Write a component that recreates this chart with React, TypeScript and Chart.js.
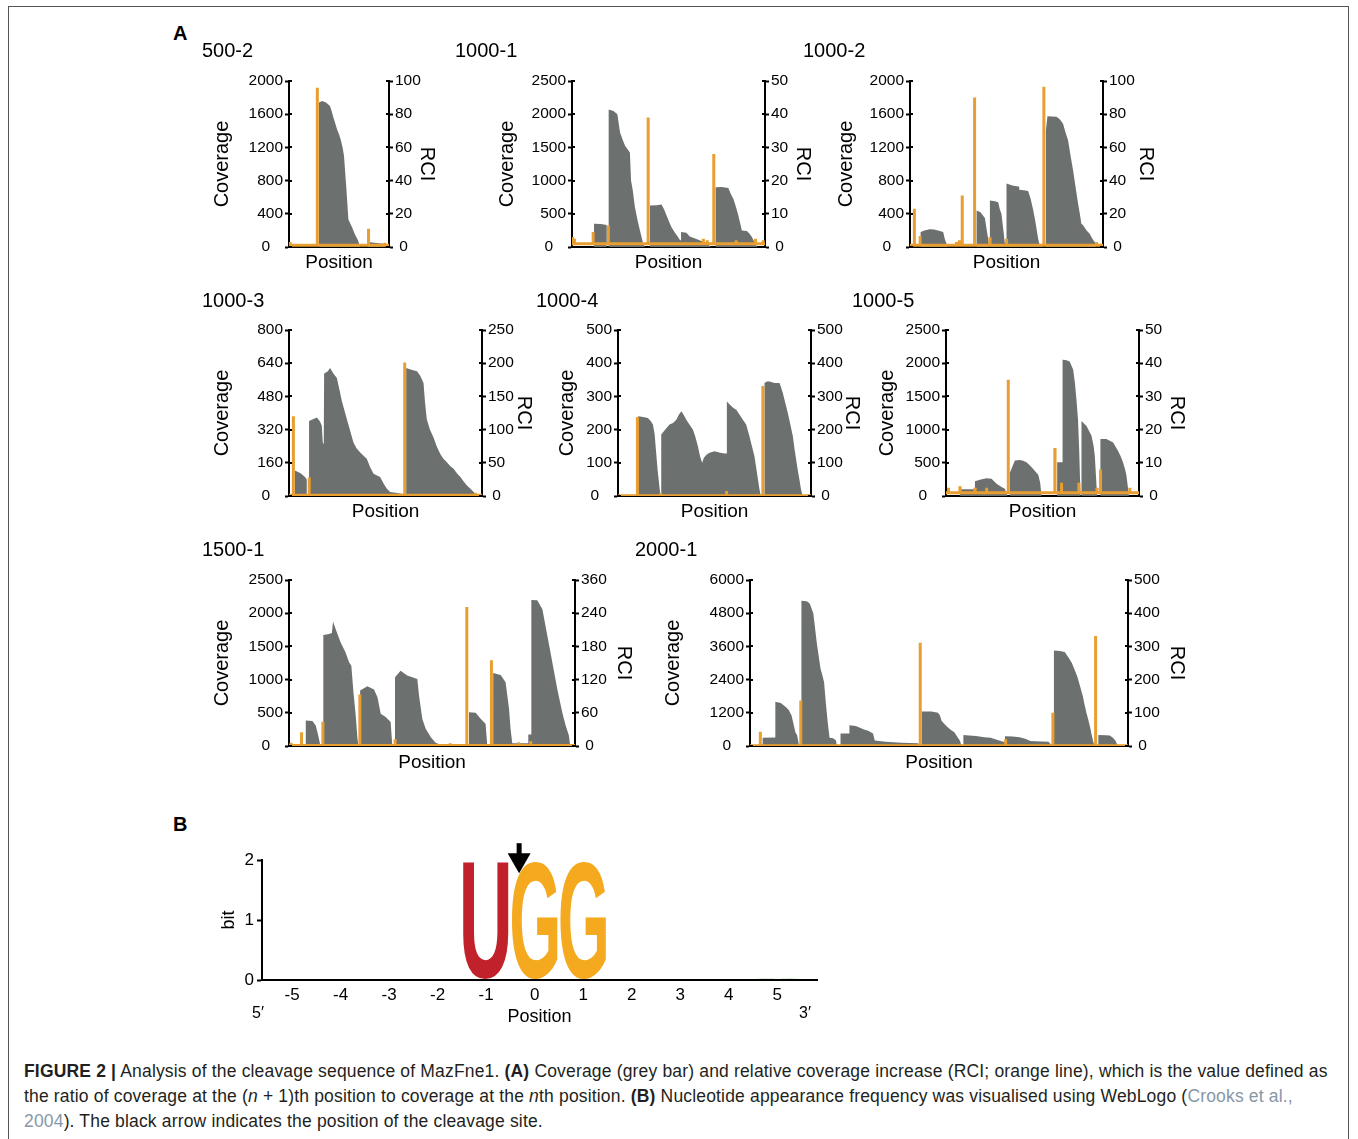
import React, { useEffect, useRef } from "react";
import { Chart, registerables } from "chart.js";

Chart.register(...registerables);

const FONT = '"Liberation Sans", Arial, Helvetica, sans-serif';
const GREY = "#6c716f";
const ORANGE = "#e89e30";
const BLACK = "#000000";
const RCI_BASE = 1;

// ---------------- Panel A data (position in nt, coverage, RCI) ----------------
// 500-2
const len500_2 = 500;
const covPos500_2 = [0, 150, 150, 165, 185, 205, 213, 222, 230, 240, 250, 260, 268, 275, 280, 287, 297, 313, 330, 345, 355, 395, 395, 472, 480];
const covVal500_2 = [0, 0, 1740, 1760, 1740, 1700, 1640, 1560, 1500, 1420, 1357, 1280, 1200, 1100, 930, 700, 330, 250, 150, 80, 0, 0, 60, 40, 0];
const rciPos500_2 = [5, 141, 397, 478];
const rciVal500_2 = [3, 96, 11, 2.5];
const covTicks500_2 = [0, 400, 800, 1200, 1600, 2000];
const rciTicks500_2 = [0, 20, 40, 60, 80, 100];

// 1000-1
const len1000_1 = 1000;
const covPos1000_1 = [0, 114, 114, 150, 180, 180, 190, 190, 215, 235, 249, 262, 275, 300, 306, 315, 326, 340, 352, 368, 378, 404, 404, 440, 464, 478, 490, 503, 515, 530, 544, 560, 565, 565, 593, 610, 645, 670, 697, 720, 744, 744, 775, 810, 823, 836, 850, 862, 872, 880, 906, 920, 932, 949, 960];
const covVal1000_1 = [0, 0, 350, 345, 330, 0, 0, 2070, 2050, 2000, 1725, 1620, 1525, 1425, 1000, 850, 600, 400, 250, 60, 0, 0, 625, 630, 640, 560, 475, 380, 300, 230, 175, 100, 100, 225, 215, 160, 120, 90, 60, 0, 0, 900, 905, 890, 800, 725, 600, 475, 350, 250, 240, 200, 150, 50, 0];
const rciPos1000_1 = [3, 12, 109, 188, 394, 680, 700, 734, 850, 950, 990];
const rciVal1000_1 = [3, 2.5, 4.5, 6.5, 39, 2.5, 2, 28, 2, 2.5, 2];
const covTicks1000_1 = [0, 500, 1000, 1500, 2000, 2500];
const rciTicks1000_1 = [0, 10, 20, 30, 40, 50];

// 1000-2
const len1000_2 = 1000;
const covPos1000_2 = [0, 55, 55, 75, 100, 125, 150, 172, 180, 195, 345, 345, 365, 388, 398, 405, 410, 414, 414, 440, 457, 466, 474, 484, 491, 500, 500, 530, 560, 566, 566, 590, 612, 625, 638, 650, 664, 670, 690, 704, 704, 712, 759, 776, 793, 806, 819, 832, 845, 858, 871, 880, 888, 897, 915, 931, 945, 957, 966];
const covVal1000_2 = [0, 0, 180, 200, 215, 210, 195, 180, 100, 0, 0, 440, 420, 350, 200, 100, 0, 0, 560, 550, 540, 450, 400, 200, 50, 50, 765, 740, 730, 730, 690, 685, 675, 580, 450, 300, 100, 40, 0, 0, 1400, 1575, 1570, 1540, 1486, 1380, 1285, 1100, 924, 720, 522, 400, 281, 261, 200, 160, 100, 60, 0];
const rciPos1000_2 = [22, 52, 240, 255, 270, 334, 414, 500, 620, 693, 800, 966];
const rciVal1000_2 = [23, 6.6, 3, 4, 31, 90, 5, 5, 2, 96.5, 2, 3];
const covTicks1000_2 = [0, 400, 800, 1200, 1600, 2000];
const rciTicks1000_2 = [0, 20, 40, 60, 80, 100];

// 1000-3
const len1000_3 = 1000;
const covPos1000_3 = [0, 31, 31, 60, 83, 92, 92, 104, 104, 144, 160, 170, 175, 180, 182, 200, 213, 230, 248, 262, 274, 300, 315, 334, 350, 369, 385, 403, 420, 438, 472, 490, 507, 524, 560, 590, 595, 607, 607, 630, 663, 680, 697, 705, 714, 730, 749, 765, 784, 800, 818, 835, 853, 870, 888, 905, 922, 940, 957, 974];
const covVal1000_3 = [0, 0, 123, 110, 91, 80, 0, 0, 362, 378, 360, 338, 258, 250, 590, 600, 617, 590, 569, 510, 457, 370, 320, 258, 230, 210, 195, 179, 140, 107, 91, 60, 35, 19, 15, 10, 0, 0, 617, 610, 601, 580, 545, 450, 370, 320, 282, 240, 202, 180, 163, 145, 131, 110, 91, 70, 51, 35, 19, 0];
const rciPos1000_3 = [22, 104, 535, 599, 965];
const rciVal1000_3 = [120, 28, 3, 201, 5];
const covTicks1000_3 = [0, 160, 320, 480, 640, 800];
const rciTicks1000_3 = [0, 50, 100, 150, 200, 250];

// 1000-4
const len1000_4 = 1000;
const covPos1000_4 = [0, 104, 104, 130, 155, 170, 181, 190, 195, 205, 216, 221, 224, 224, 245, 267, 285, 302, 315, 328, 340, 354, 370, 388, 400, 414, 425, 436, 445, 460, 474, 500, 530, 552, 564, 564, 580, 598, 613, 630, 647, 664, 681, 694, 707, 720, 733, 740, 759, 759, 772, 785, 810, 837, 846, 854, 867, 880, 893, 906, 915, 923, 931, 940, 948, 957];
const covVal1000_4 = [0, 0, 240, 238, 235, 225, 215, 185, 150, 80, 20, 0, 0, 185, 200, 215, 220, 230, 245, 255, 245, 230, 215, 200, 180, 150, 120, 100, 115, 125, 130, 135, 130, 128, 128, 285, 275, 265, 260, 245, 230, 215, 180, 150, 120, 70, 20, 0, 0, 340, 345, 345, 340, 340, 325, 310, 280, 250, 215, 180, 140, 110, 80, 50, 20, 0];
const rciPos1000_4 = [52, 100, 221, 562, 750];
const rciVal1000_4 = [5, 238, 8, 15, 331];
const covTicks1000_4 = [0, 100, 200, 300, 400, 500];
const rciTicks1000_4 = [0, 100, 200, 300, 400, 500];

// 1000-5
const len1000_5 = 1000;
const covPos1000_5 = [0, 72, 72, 150, 150, 180, 210, 236, 262, 288, 305, 318, 331, 331, 345, 357, 383, 400, 417, 435, 452, 465, 478, 488, 495, 576, 576, 604, 604, 620, 641, 659, 668, 676, 684, 690, 697, 702, 702, 728, 754, 765, 771, 783, 800, 800, 831, 866, 891, 905, 917, 928, 935, 948];
const covVal1000_5 = [0, 0, 100, 100, 224, 250, 269, 259, 184, 134, 110, 0, 0, 349, 450, 533, 543, 530, 508, 460, 408, 360, 319, 200, 0, 0, 508, 508, 2052, 2050, 2027, 1900, 1700, 1450, 1150, 700, 0, 0, 1130, 1056, 906, 750, 607, 0, 0, 857, 857, 807, 682, 600, 508, 400, 309, 0];
const rciPos1000_5 = [12, 72, 150, 210, 322, 564, 598, 688, 782, 800, 952];
const rciVal1000_5 = [2.5, 2.5, 2, 2.5, 35, 14, 4, 4, 2, 8, 2.5];
const covTicks1000_5 = [0, 500, 1000, 1500, 2000, 2500];
const rciTicks1000_5 = [0, 10, 20, 30, 40, 50];

// 1500-1
const len1500_1 = 1500;
const covPos1500_1 = [0, 88, 88, 123, 140, 149, 157, 165, 180, 180, 210, 225, 231, 245, 271, 297, 315, 327, 338, 350, 359, 365, 373, 373, 411, 446, 464, 481, 507, 533, 542, 556, 556, 585, 620, 673, 682, 699, 717, 743, 769, 795, 930, 930, 944, 944, 979, 1005, 1031, 1040, 1071, 1071, 1110, 1136, 1154, 1162, 1171, 1255, 1255, 1271, 1271, 1302, 1329, 1355, 1381, 1407, 1433, 1451, 1468, 1475];
const covVal1500_1 = [0, 0, 385, 375, 310, 210, 110, 0, 0, 1670, 1685, 1700, 1875, 1760, 1560, 1410, 1260, 1210, 810, 460, 110, 0, 0, 835, 900, 850, 735, 485, 435, 360, 0, 0, 1035, 1135, 1060, 1010, 760, 410, 260, 135, 50, 20, 20, 0, 0, 510, 500, 410, 335, 0, 0, 1100, 1070, 960, 560, 260, 40, 40, 175, 175, 2200, 2195, 2060, 1660, 1260, 860, 510, 310, 160, 0];
const rciPos1500_1 = [10, 65, 177, 371, 556, 700, 845, 932, 1061, 1203, 1267, 1480];
const rciVal1500_1 = [3, 25, 44, 93, 12, 2, 5, 251, 155, 7, 9, 2];
const covTicks1500_1 = [0, 500, 1000, 1500, 2000, 2500];
const rciTicks1500_1 = [0, 60, 120, 180, 240, 300];
const rciLabels1500_1 = ["0", "60", "120", "180", "240", "360"];

// 2000-1
const len2000_1 = 2000;
const covPos2000_1 = [0, 67, 67, 134, 134, 163, 191, 205, 220, 230, 240, 249, 260, 272, 272, 300, 316, 335, 354, 373, 385, 392, 402, 412, 421, 440, 455, 460, 479, 479, 526, 526, 560, 603, 625, 651, 660, 718, 800, 890, 900, 909, 909, 960, 995, 1005, 1014, 1043, 1060, 1081, 1095, 1110, 1120, 1129, 1129, 1160, 1196, 1240, 1273, 1310, 1340, 1349, 1349, 1390, 1426, 1460, 1483, 1540, 1579, 1600, 1608, 1608, 1640, 1665, 1685, 1703, 1718, 1732, 1745, 1761, 1770, 1780, 1790, 1799, 1808, 1818, 1830, 1843, 1843, 1880, 1904, 1920, 1933, 1943, 1950];
const covVal2000_1 = [0, 0, 300, 310, 1600, 1550, 1400, 1300, 1100, 800, 500, 400, 0, 0, 5250, 5230, 5150, 4800, 3700, 2800, 2500, 2300, 1500, 800, 300, 280, 200, 0, 0, 450, 450, 750, 720, 600, 550, 450, 200, 150, 120, 100, 0, 0, 1250, 1250, 1200, 1100, 900, 700, 600, 500, 350, 200, 0, 0, 400, 380, 360, 320, 300, 220, 150, 150, 350, 340, 320, 250, 180, 160, 150, 0, 0, 3450, 3430, 3400, 3200, 3000, 2750, 2500, 2200, 1800, 1500, 1200, 950, 700, 400, 100, 0, 0, 400, 390, 380, 300, 200, 50, 0];
const rciPos2000_1 = [8, 54, 268, 900, 1352, 1602, 1828];
const rciVal2000_1 = [5, 43, 137, 311, 20, 100, 331];
const covTicks2000_1 = [0, 1200, 2400, 3600, 4800, 6000];
const rciTicks2000_1 = [0, 100, 200, 300, 400, 500];

// ---------------- Panel B data ----------------
const logoTicks = [-5, -4, -3, -2, -1, 0, 1, 2, 3, 4, 5];
const bitTicks = [0, 1, 2];
const logoPos = [-1, 0, 1, 5];
const logoLetters = ["U", "G", "G", "A"];
const logoBits = [1.97, 1.97, 1.97, 0.03];
const cleavagePos = -0.32;
const arrowTopBits = 2.28;
const arrowTipBits = 1.78;

// ---------------- styles / layout ----------------
const LETTER_COLORS: Record<string, string> = { U: "#c1212b", G: "#f4a91f", A: "#b5dcae" };

type Panel = {
  name: string;
  length: number;
  covPos: number[];
  covVal: number[];
  rciPos: number[];
  rciVal: number[];
  covTicks: number[];
  rciTicks: number[];
  rciLabels?: string[];
};

type Geo = {
  titleX: number;
  titleY: number;
  top: number;
  bottom: number;
  axisL: number;
  axisR: number;
  covX: number;
  rciX: number;
  posY: number;
};

const panels: { panel: Panel; geo: Geo }[] = [
  {
    panel: { name: "500-2", length: len500_2, covPos: covPos500_2, covVal: covVal500_2, rciPos: rciPos500_2, rciVal: rciVal500_2, covTicks: covTicks500_2, rciTicks: rciTicks500_2 },
    geo: { titleX: 202, titleY: 51, top: 81, bottom: 247, axisL: 289, axisR: 389, covX: 222, rciX: 427, posY: 263 },
  },
  {
    panel: { name: "1000-1", length: len1000_1, covPos: covPos1000_1, covVal: covVal1000_1, rciPos: rciPos1000_1, rciVal: rciVal1000_1, covTicks: covTicks1000_1, rciTicks: rciTicks1000_1 },
    geo: { titleX: 455, titleY: 51, top: 81, bottom: 247, axisL: 572, axisR: 765, covX: 507, rciX: 803, posY: 263 },
  },
  {
    panel: { name: "1000-2", length: len1000_2, covPos: covPos1000_2, covVal: covVal1000_2, rciPos: rciPos1000_2, rciVal: rciVal1000_2, covTicks: covTicks1000_2, rciTicks: rciTicks1000_2 },
    geo: { titleX: 803, titleY: 51, top: 81, bottom: 247, axisL: 910, axisR: 1103, covX: 846, rciX: 1146, posY: 263 },
  },
  {
    panel: { name: "1000-3", length: len1000_3, covPos: covPos1000_3, covVal: covVal1000_3, rciPos: rciPos1000_3, rciVal: rciVal1000_3, covTicks: covTicks1000_3, rciTicks: rciTicks1000_3 },
    geo: { titleX: 202, titleY: 301, top: 330, bottom: 496, axisL: 289, axisR: 482, covX: 222, rciX: 524, posY: 512 },
  },
  {
    panel: { name: "1000-4", length: len1000_4, covPos: covPos1000_4, covVal: covVal1000_4, rciPos: rciPos1000_4, rciVal: rciVal1000_4, covTicks: covTicks1000_4, rciTicks: rciTicks1000_4 },
    geo: { titleX: 536, titleY: 301, top: 330, bottom: 496, axisL: 618, axisR: 811, covX: 567, rciX: 852, posY: 512 },
  },
  {
    panel: { name: "1000-5", length: len1000_5, covPos: covPos1000_5, covVal: covVal1000_5, rciPos: rciPos1000_5, rciVal: rciVal1000_5, covTicks: covTicks1000_5, rciTicks: rciTicks1000_5 },
    geo: { titleX: 852, titleY: 301, top: 330, bottom: 496, axisL: 946, axisR: 1139, covX: 887, rciX: 1177, posY: 512 },
  },
  {
    panel: { name: "1500-1", length: len1500_1, covPos: covPos1500_1, covVal: covVal1500_1, rciPos: rciPos1500_1, rciVal: rciVal1500_1, covTicks: covTicks1500_1, rciTicks: rciTicks1500_1, rciLabels: rciLabels1500_1 },
    geo: { titleX: 202, titleY: 550, top: 580, bottom: 746, axisL: 289, axisR: 575, covX: 222, rciX: 624, posY: 763 },
  },
  {
    panel: { name: "2000-1", length: len2000_1, covPos: covPos2000_1, covVal: covVal2000_1, rciPos: rciPos2000_1, rciVal: rciVal2000_1, covTicks: covTicks2000_1, rciTicks: rciTicks2000_1 },
    geo: { titleX: 635, titleY: 550, top: 580, bottom: 746, axisL: 750, axisR: 1128, covX: 673, rciX: 1177, posY: 763 },
  },
];

const tickCrossPlugin = {
  id: "tickCross",
  afterDraw(chart: any) {
    const ctx = chart.ctx;
    const { left, right } = chart.chartArea;
    ctx.save();
    ctx.strokeStyle = BLACK;
    ctx.lineWidth = 2;
    for (const id of ["y", "y1"]) {
      const s = chart.scales[id];
      if (!s) continue;
      const x = id === "y" ? left : right;
      const dir = id === "y" ? 1 : -1;
      s.ticks.forEach((t: any) => {
        const yy = Math.round(s.getPixelForValue(t.value));
        ctx.beginPath();
        ctx.moveTo(x, yy);
        ctx.lineTo(x + dir * 3, yy);
        ctx.stroke();
      });
    }
    ctx.restore();
  },
};

function CoveragePanel({ panel, geo }: { panel: Panel; geo: Geo }) {
  const ref = useRef<HTMLCanvasElement>(null);
  const L = geo.titleX;
  const T = geo.titleY - 16;
  const W = geo.rciX + 14 - L;
  const H = Math.round(geo.posY + 11.4 - T);
  const xh = H - (geo.bottom - T);

  useEffect(() => {
    const covData = panel.covPos.map((x, i) => ({ x, y: panel.covVal[i] }));
    const rciData: { x: number; y: number }[] = [{ x: 0, y: RCI_BASE }];
    panel.rciPos.forEach((p, i) => {
      const v = panel.rciVal[i];
      rciData.push({ x: p, y: RCI_BASE }, { x: p, y: v }, { x: p + 1, y: v }, { x: p + 1, y: RCI_BASE });
    });
    rciData.push({ x: panel.length, y: RCI_BASE });

    const tickFont = { family: FONT, size: 15.5 };
    const chart = new Chart(ref.current as HTMLCanvasElement, {
      type: "line",
      data: {
        datasets: [
          {
            data: rciData,
            yAxisID: "y1",
            borderColor: ORANGE,
            borderWidth: 3,
            pointRadius: 0,
            fill: false,
            order: 0,
            borderJoinStyle: "miter",
            tension: 0,
          } as any,
          {
            data: covData,
            yAxisID: "y",
            fill: "origin",
            backgroundColor: GREY,
            borderColor: "rgba(0,0,0,0)",
            borderWidth: 0,
            pointRadius: 0,
            tension: 0,
            order: 1,
          } as any,
        ],
      },
      options: {
        animation: false,
        responsive: false,
        events: [],
        layout: { padding: 0 },
        plugins: {
          legend: { display: false },
          tooltip: { enabled: false },
          title: {
            display: true,
            text: panel.name,
            align: "start",
            color: BLACK,
            font: { family: FONT, size: 20, weight: "normal", lineHeight: 1.2 },
            padding: { top: 4, bottom: geo.top - T - 28 },
          },
        },
        scales: {
          x: {
            type: "linear",
            min: 0,
            max: panel.length,
            ticks: { display: false },
            grid: { display: false },
            border: { display: true, color: BLACK, width: 2 },
            title: { display: true, text: "Position", color: BLACK, font: { family: FONT, size: 19, lineHeight: 1.2 }, padding: 0 },
            afterFit: (s: any) => {
              s.height = xh;
            },
          },
          y: {
            type: "linear",
            position: "left",
            min: 0,
            max: panel.covTicks[panel.covTicks.length - 1],
            afterBuildTicks: (s: any) => {
              s.ticks = panel.covTicks.map((v) => ({ value: v }));
            },
            ticks: {
              color: BLACK,
              font: tickFont,
              padding: 2,
              callback: (v: any) => (Number(v) === 0 ? "0   " : String(v)),
            },
            grid: { drawOnChartArea: false, drawTicks: true, tickLength: 4, tickWidth: 2, tickColor: BLACK },
            border: { display: true, color: BLACK, width: 2 },
            title: {
              display: true,
              text: "Coverage",
              color: BLACK,
              font: { family: FONT, size: 20, lineHeight: 1.2 },
              padding: { top: geo.covX - L - 12, bottom: 0 },
            },
            afterFit: (s: any) => {
              s.width = geo.axisL - L;
            },
          },
          y1: {
            type: "linear",
            position: "right",
            min: 0,
            max: panel.rciTicks[panel.rciTicks.length - 1],
            afterBuildTicks: (s: any) => {
              s.ticks = panel.rciTicks.map((v) => ({ value: v }));
            },
            ticks: {
              color: BLACK,
              font: tickFont,
              padding: 2,
              callback: (v: any, idx: number) => {
                const lab = panel.rciLabels ? panel.rciLabels[idx] : String(v);
                return Number(v) === 0 ? " " + lab : lab;
              },
            },
            grid: { drawOnChartArea: false, drawTicks: true, tickLength: 4, tickWidth: 2, tickColor: BLACK },
            border: { display: true, color: BLACK, width: 2 },
            title: {
              display: true,
              text: "RCI",
              color: BLACK,
              font: { family: FONT, size: 20, lineHeight: 1.2 },
              padding: { top: 2, bottom: 0 },
            },
            afterFit: (s: any) => {
              s.width = L + W - geo.axisR;
            },
          },
        },
      } as any,
      plugins: [tickCrossPlugin],
    });
    return () => chart.destroy();
  }, []);

  return (
    <canvas
      ref={ref}
      width={W}
      height={H}
      style={{ position: "absolute", left: L, top: T, width: W, height: H }}
    />
  );
}

function LogoPanel() {
  const ref = useRef<HTMLCanvasElement>(null);
  const L = 215;
  const T = 835;
  const W = 620;
  const H = 200;
  const chartTop = 860;
  const chartBottom = 980;
  const axisLeft = 262;
  const axisRight = 817;

  useEffect(() => {
    const logoPlugin = {
      id: "logoLetters",
      afterDatasetsDraw(chart: any) {
        const ctx = chart.ctx;
        const xs = chart.scales.x;
        const ys = chart.scales.y;
        ctx.save();
        logoPos.forEach((p, i) => {
          const letter = logoLetters[i];
          const x0 = xs.getPixelForValue(p - 0.47);
          const x1 = xs.getPixelForValue(p + 0.47);
          const yTop = ys.getPixelForValue(logoBits[i]);
          const yBot = ys.getPixelForValue(0) - 1;
          ctx.font = `bold 100px ${FONT}`;
          ctx.textAlign = "left";
          ctx.textBaseline = "alphabetic";
          const m = ctx.measureText(letter);
          const gw = m.actualBoundingBoxLeft + m.actualBoundingBoxRight;
          const gh = m.actualBoundingBoxAscent + m.actualBoundingBoxDescent;
          ctx.save();
          ctx.translate(x0, yBot);
          ctx.scale((x1 - x0) / gw, (yBot - yTop) / gh);
          ctx.fillStyle = LETTER_COLORS[letter] || BLACK;
          ctx.fillText(letter, m.actualBoundingBoxLeft, -m.actualBoundingBoxDescent);
          ctx.restore();
        });
        // cleavage arrow
        const ax = xs.getPixelForValue(cleavagePos);
        const aTop = ys.getPixelForValue(arrowTopBits);
        const aTip = ys.getPixelForValue(arrowTipBits);
        const headH = 20;
        ctx.fillStyle = BLACK;
        ctx.fillRect(ax - 2.5, aTop, 5, aTip - aTop - headH + 1);
        ctx.beginPath();
        ctx.moveTo(ax - 11.5, aTip - headH);
        ctx.lineTo(ax + 11.5, aTip - headH);
        ctx.lineTo(ax, aTip);
        ctx.closePath();
        ctx.fill();
        // strand ends
        ctx.font = `16px ${FONT}`;
        ctx.fillStyle = BLACK;
        ctx.textBaseline = "middle";
        ctx.textAlign = "center";
        const { left, right, bottom } = chart.chartArea;
        ctx.fillText("5\u2032", left - 4, bottom + 34);
        ctx.fillText("3\u2032", right - 12, bottom + 34);
        ctx.restore();
      },
    };

    const chart = new Chart(ref.current as HTMLCanvasElement, {
      type: "scatter",
      data: {
        datasets: [
          {
            data: logoPos.map((p, i) => ({ x: p, y: logoBits[i] })),
            pointRadius: 0,
            showLine: false,
          },
        ],
      },
      options: {
        animation: false,
        responsive: false,
        events: [],
        layout: { padding: { top: chartTop - T, right: L + W - axisRight, left: 0, bottom: 0 } },
        plugins: { legend: { display: false }, tooltip: { enabled: false } },
        scales: {
          x: {
            type: "linear",
            min: -5.62,
            max: 5.82,
            afterBuildTicks: (s: any) => {
              s.ticks = logoTicks.map((v) => ({ value: v }));
            },
            ticks: { color: BLACK, font: { family: FONT, size: 17 }, padding: 5, maxRotation: 0 },
            grid: { display: false, drawTicks: false },
            border: { display: true, color: BLACK, width: 2 },
            title: { display: true, text: "Position", color: BLACK, font: { family: FONT, size: 18, lineHeight: 1.2 }, padding: { top: 0, bottom: 7 } },
            afterFit: (s: any) => {
              s.height = T + H - chartBottom;
            },
          },
          y: {
            type: "linear",
            min: 0,
            max: 2,
            afterBuildTicks: (s: any) => {
              s.ticks = bitTicks.map((v) => ({ value: v }));
            },
            ticks: { color: BLACK, font: { family: FONT, size: 17 }, padding: 3 },
            grid: { drawOnChartArea: false, drawTicks: true, tickLength: 5, tickWidth: 2, tickColor: BLACK },
            border: { display: true, color: BLACK, width: 2 },
            title: { display: true, text: "bit", color: BLACK, font: { family: FONT, size: 18, lineHeight: 1.2 }, padding: { top: 3, bottom: 0 } },
            afterFit: (s: any) => {
              s.width = axisLeft - L;
            },
          },
        },
      } as any,
      plugins: [logoPlugin],
    });
    return () => chart.destroy();
  }, []);

  return (
    <canvas ref={ref} width={W} height={H} style={{ position: "absolute", left: L, top: T, width: W, height: H }} />
  );
}

export default function App() {
  const linkColor = "#8797a8";
  return (
    <div
      style={{
        position: "absolute",
        left: 0,
        top: 0,
        width: 1358,
        height: 1139,
        overflow: "hidden",
        background: "#ffffff",
        fontFamily: FONT,
      }}
    >
      <div
        style={{
          position: "absolute",
          left: 8,
          top: 6,
          width: 1341,
          height: 1150,
          border: "1px solid #555555",
          boxSizing: "border-box",
        }}
      />
      <div style={{ position: "absolute", left: 173, top: 22, fontSize: 20, fontWeight: "bold", color: BLACK }}>A</div>
      <div style={{ position: "absolute", left: 173, top: 813, fontSize: 20, fontWeight: "bold", color: BLACK }}>B</div>
      {panels.map((p) => (
        <CoveragePanel key={p.panel.name} panel={p.panel} geo={p.geo} />
      ))}
      <LogoPanel />
      <div
        style={{
          position: "absolute",
          left: 24,
          top: 1059,
          fontSize: 17.5,
          letterSpacing: "0.17px",
          lineHeight: "25px",
          color: "#231f20",
          whiteSpace: "nowrap",
        }}
      >
        <b>FIGURE 2 |</b> Analysis of the cleavage sequence of MazFne1. <b>(A)</b> Coverage (grey bar) and relative coverage
        increase (RCI; orange line), which is the value defined as
        <br />
        the ratio of coverage at the (<i>n</i> + 1)th position to coverage at the <i>n</i>th position. <b>(B)</b> Nucleotide
        appearance frequency was visualised using WebLogo (<span style={{ color: linkColor }}>Crooks et al.,</span>
        <br />
        <span style={{ color: linkColor }}>2004</span>). The black arrow indicates the position of the cleavage site.
      </div>
    </div>
  );
}
